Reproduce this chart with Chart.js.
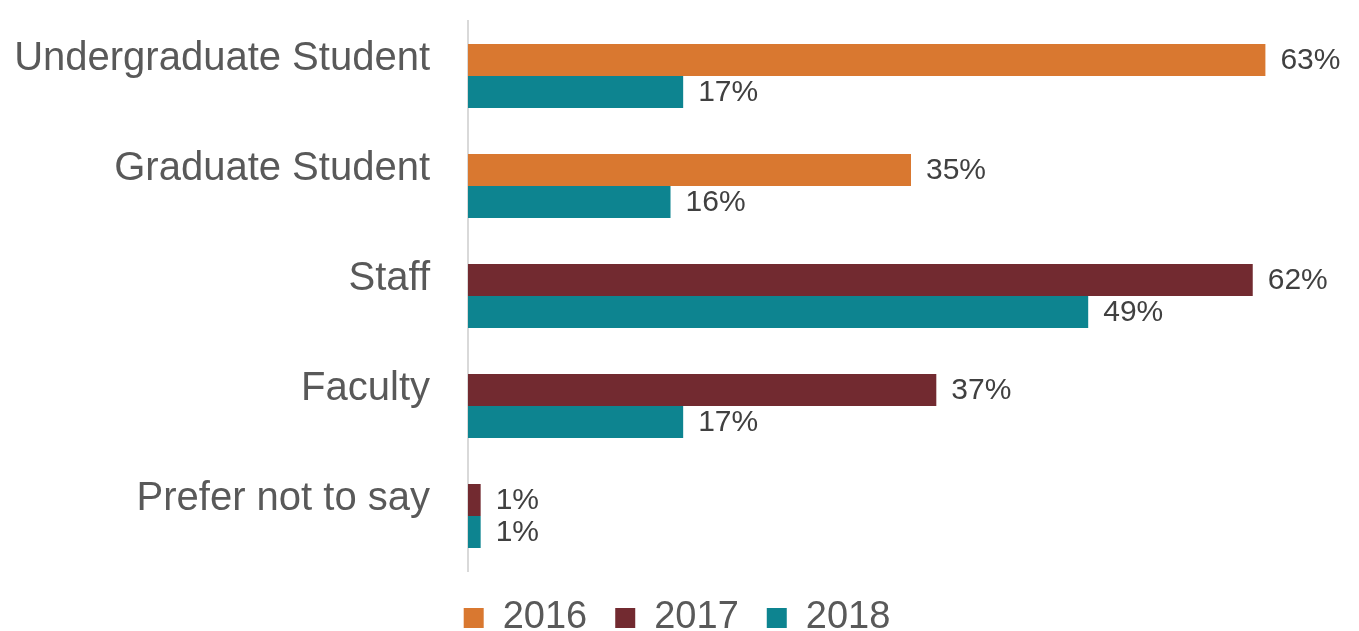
<!DOCTYPE html>
<html>
<head>
<meta charset="utf-8">
<script src="https://cdn.jsdelivr.net/npm/chart.js@4/dist/chart.umd.min.js"></script>
<style>
  html, body { margin: 0; padding: 0; background: #fff; }
  #wrap { width: 1359px; height: 631px; }
</style>
</head>
<body>
<div id="wrap"><canvas id="roleBarChart"></canvas></div>
<script>
const categories = ['Undergraduate Student', 'Graduate Student', 'Staff', 'Faculty', 'Prefer not to say'];
const values2016 = [63, 35, null, null, null];
const values2017 = [null, null, 62, 37, 1];
const values2018 = [17, 16, 49, 17, 1];

const FONT = "'Liberation Sans', Arial, sans-serif";

// value labels next to each bar
const barValueLabels = {
    id: 'barValueLabels',
    afterDatasetsDraw(chart) {
        const ctx = chart.ctx;
        ctx.save();
        ctx.font = '30px ' + FONT;
        ctx.fillStyle = '#404040';
        ctx.textAlign = 'left';
        ctx.textBaseline = 'middle';
        chart.data.datasets.forEach((ds, i) => {
            const meta = chart.getDatasetMeta(i);
            meta.data.forEach((bar, j) => {
                const v = ds.data[j];
                if (v === null || v === undefined) return;
                ctx.fillText(v + '%', bar.x + 15, bar.y + 1);
            });
        });
        ctx.restore();
    }
};

const ctx = document.getElementById('roleBarChart').getContext('2d');

const chartData = {
    labels: categories,
    datasets: [
        { label: '2016', data: values2016, backgroundColor: '#D97830' },
        { label: '2017', data: values2017, backgroundColor: '#722A30' },
        { label: '2018', data: values2018, backgroundColor: '#0D8490' }
    ]
};

const config = {
    type: 'bar',
    data: chartData,
    options: {
        indexAxis: 'y',
        responsive: true,
        maintainAspectRatio: false,
        animation: false,
        skipNull: true,
        barPercentage: 1,
        categoryPercentage: 0.582,
        layout: {
            padding: { top: 21, right: 5, bottom: -16, left: 0 }
        },
        plugins: {
            tooltip: { enabled: false },
            legend: {
                position: 'bottom',
                labels: {
                    boxWidth: 20,
                    boxHeight: 20,
                    padding: 28,
                    color: '#595959',
                    font: { family: FONT, size: 38 }
                }
            }
        },
        scales: {
            x: {
                display: false,
                min: 0,
                max: 70
            },
            y: {
                grid: { display: false, drawTicks: true, tickLength: 38 },
                border: { display: true, color: '#d9d9d9', width: 2 },
                ticks: {
                    color: '#595959',
                    padding: 0,
                    labelOffset: -17,
                    font: { family: FONT, size: 40, lineHeight: 1 }
                },
                afterFit(scale) { scale.width = 468; }
            }
        }
    },
    plugins: [barValueLabels]
};

const roleBarChart = new Chart(ctx, config);
</script>
</body>
</html>
